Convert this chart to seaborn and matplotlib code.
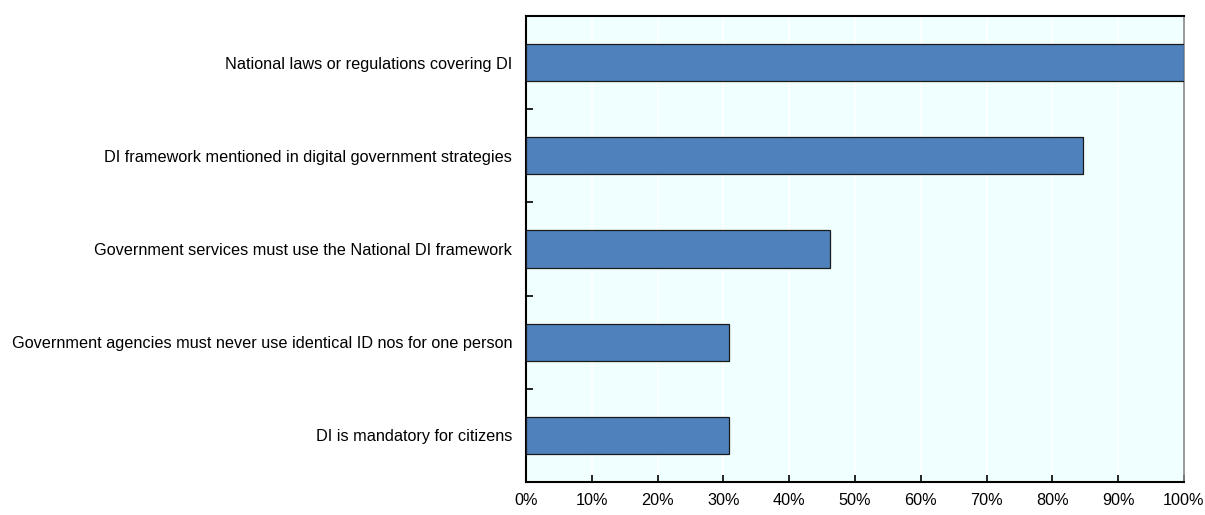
import matplotlib
matplotlib.use("Agg")
import matplotlib.pyplot as plt
import seaborn as sns
import pandas as pd
from matplotlib.ticker import FixedLocator, PercentFormatter

categories = [
    "National laws or regulations covering DI",
    "DI framework mentioned in digital government strategies",
    "Government services must use the National DI framework",
    "Government agencies must never use identical ID nos for one person",
    "DI is mandatory for citizens",
]
values = [100.0, 84.6, 46.2, 30.8, 30.8]

sns.set_theme(style="white")
plt.rcParams['font.family'] = ['Liberation Sans', 'DejaVu Sans']

df = pd.DataFrame({"category": categories, "value": values})

fig = plt.figure(figsize=(12.05, 5.15), dpi=100)
ax = fig.add_axes([526/1205, 1-482/515, (1184-526)/1205, (482-16)/515])
ax.set_facecolor("#F0FFFF")

sns.barplot(data=df, x="value", y="category", orient="h", color="#4F81BD",
            saturation=1, width=0.4, edgecolor="#1a1a1a", linewidth=0.9, ax=ax, zorder=3)

ax.set_xlim(0, 100)
ax.set_ylim(4.5, -0.5)
ax.set_xticks(range(0, 101, 10))
ax.xaxis.set_major_formatter(PercentFormatter(decimals=0))
ax.grid(axis="x", color="white", linewidth=1.2, zorder=0)
ax.set_axisbelow(True)
ax.set_xlabel("")
ax.set_ylabel("")

ax.tick_params(axis="x", direction="in", length=5, width=1.2, color="black",
               labelsize=11.7, pad=8, bottom=True)
ax.tick_params(axis="y", length=0, labelsize=11.7, pad=10)
ax.yaxis.set_minor_locator(FixedLocator([0.5, 1.5, 2.5, 3.5]))
ax.tick_params(axis="y", which="minor", direction="in", length=5, width=1.2,
               color="black", left=True)

for s in ["left", "bottom", "top"]:
    ax.spines[s].set_color("black")
    ax.spines[s].set_linewidth(1.5)
ax.spines["right"].set_color("#888888")
ax.spines["right"].set_linewidth(1.2)
for lbl in ax.get_xticklabels() + ax.get_yticklabels():
    lbl.set_color("black")

fig.savefig("out.png", dpi=100)
